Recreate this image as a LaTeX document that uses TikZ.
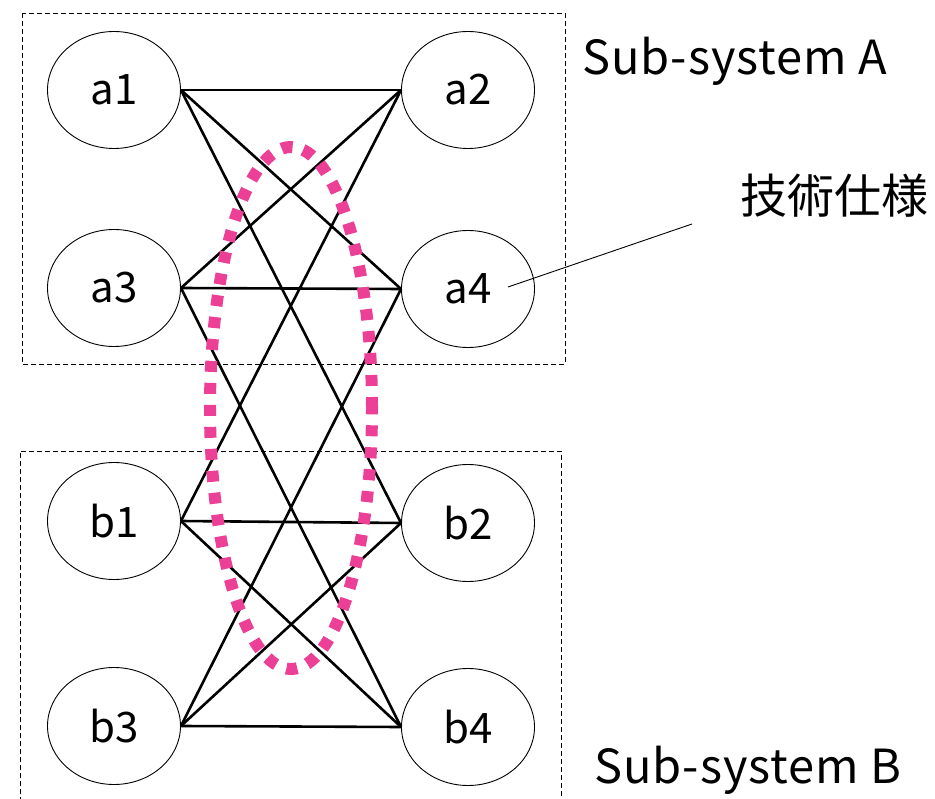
\documentclass[tikz,border=0pt]{standalone}
\usepackage{fontspec}
\setmainfont{Noto Sans CJK JP}
\newfontfamily\spacedfont[LetterSpace=2]{Noto Sans CJK JP}
\usetikzlibrary{shapes.geometric}
\definecolor{dotpink}{RGB}{236,64,150}
\begin{document}
\begin{tikzpicture}[x=1pt,y=-1pt,
  elem/.style={draw, ellipse, line width=0.9pt, minimum width=133pt, minimum height=117pt, inner sep=0pt, font=\fontsize{42}{46}\selectfont},
  subbox/.style={draw, dashed, dash pattern=on 5pt off 3pt, line width=0.8pt},
  link/.style={line width=2.6pt, black},
  lbl/.style={anchor=west, inner sep=0pt, font=\spacedfont\fontsize{47}{50}\selectfont},
  hilite/.style={draw=dotpink, line width=12pt, dash pattern=on 11pt off 11pt}
]
\useasboundingbox (0,0) rectangle (935,799);
% sub-system boxes
\draw[subbox] (22,13) rectangle (565,364);
\draw[subbox] (20,810) -- (20,451) -- (561,451) -- (561,810);
% elements
\node[elem] (a1) at (114,90) {a1};
\node[elem] (a2) at (468,90) {a2};
\node[elem] (a3) at (114,288) {a3};
\node[elem] (a4) at (468,289) {a4};
\node[elem] (b1) at (114,521) {b1};
\node[elem] (b2) at (468,523) {b2};
\node[elem] (b3) at (114,726) {b3};
\node[elem] (b4) at (468,727) {b4};
% connections
\draw[link] (a1.east) -- (a2.west);
\draw[link] (a1.east) -- (a4.west);
\draw[link] (a1.east) -- (b2.west);
\draw[link] (a2.west) -- (a3.east);
\draw[link] (a2.west) -- (b1.east);
\draw[link] (a3.east) -- (a4.west);
\draw[link] (a3.east) -- (b4.west);
\draw[link] (a4.west) -- (b3.east);
\draw[link] (b1.east) -- (b2.west);
\draw[link] (b1.east) -- (b4.west);
\draw[link] (b2.west) -- (b3.east);
\draw[link] (b3.east) -- (b4.west);
% highlight
\node[hilite, ellipse, minimum width=162pt, minimum height=522pt, inner sep=0pt] (hl) at (291,408) {};
% labels
\node[lbl] (sa) at (582,61) {Sub-system A};
\node[lbl] (sb) at (594,770) {Sub-system B};
\node[lbl, font=\fontsize{47}{50}\selectfont] (spec) at (740,196) {技術仕様};
\coordinate (leadstart) at (692,224);
\coordinate (leadend) at (508,287);
\draw[line width=0.9pt] (leadstart) -- (leadend);
\end{tikzpicture}
\end{document}
